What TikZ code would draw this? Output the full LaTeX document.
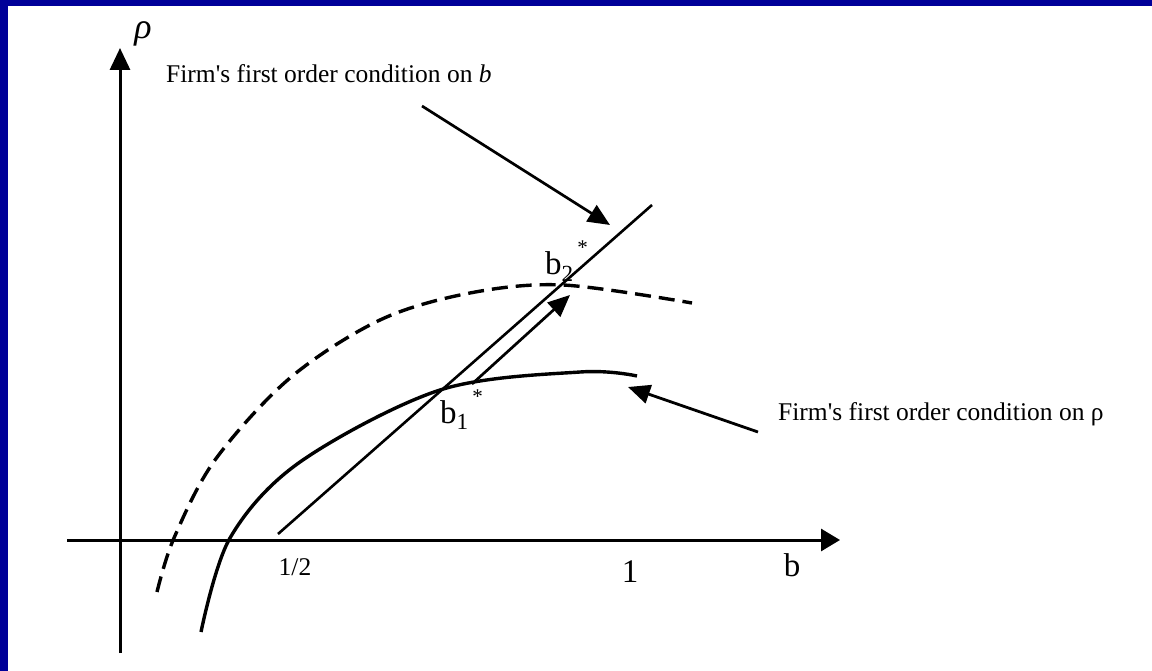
\documentclass[tikz,border=0pt]{standalone}
\usepackage{fontspec}
\setmainfont{Liberation Serif}
\usetikzlibrary{arrows.meta}
\definecolor{frameblue}{RGB}{0,0,153}
\newcommand{\eqlab}[1]{b\textsubscript{#1}\raisebox{20pt}{\fontsize{21}{21}\selectfont\,*}}

\begin{document}
\begin{tikzpicture}[x=1pt,y=-1pt,line join=round,>={Triangle[length=22pt,width=19pt]},
    lab/.style={font=\fontsize{25.5}{28}\selectfont,inner sep=0pt},
    big/.style={font=\fontsize{33}{35}\selectfont,inner sep=0pt}]
  \useasboundingbox (0,0) rectangle (1152,671);
  \fill[frameblue] (0,0) rectangle (1152,6);
  \fill[frameblue] (0,0) rectangle (8,671);

  % axes
  \coordinate (Ybot) at (120,653);
  \coordinate (Ytop) at (120,48);
  \coordinate (Xl) at (67,540);
  \coordinate (Xr) at (840,540);
  \draw[line width=3pt,-{Triangle[length=22pt,width=20pt]}] (Ybot) -- (Ytop);
  \draw[line width=3pt,-{Triangle[length=19pt,width=22pt]}] (Xl) -- (Xr);

  % first order condition on rho
  \draw[line width=3.4pt]
    plot[smooth,tension=.55] coordinates {
      (201,632) (230,538) (300,462) (440,390) (580,372) (637,376)};
  \draw[line width=3.4pt,dash pattern=on 16pt off 8pt]
    plot[smooth,tension=.55] coordinates {
      (157,592) (174,538) (215,460) (290,378) (380,320) (470,293)
      (563,285) (692,303)};

  % first order condition on b
  \coordinate (Lo) at (278,534);
  \coordinate (Hi) at (652,205);
  \draw[line width=2.6pt] (Lo) -- (Hi);

  \coordinate (Shift0) at (472,384);
  \coordinate (Shift1) at (570,295);
  \draw[line width=2.7pt,->] (Shift0) -- (Shift1);

  \node[font=\fontsize{36}{36}\selectfont,inner sep=0pt] (rho) at (143,34) {\textit{ρ}};
  \node[lab,anchor=base west] (focb) at (166,83) {Firm\textquotesingle s first order condition on \textit{b}};
  \node[lab,anchor=base west] (focr) at (778,420) {Firm\textquotesingle s first order condition on ρ};

  \coordinate (Pb0) at (422,106);
  \coordinate (Pb1) at (610,225);
  \draw[line width=2.7pt,->] (Pb0) -- (Pb1);
  \coordinate (Pr0) at (758,432);
  \coordinate (Pr1) at (628,387);
  \draw[line width=2.8pt,->] (Pr0) -- (Pr1);

  \node[big,anchor=base west] (b2) at (545,275) {\eqlab{2}};
  \node[big,anchor=base west] (b1) at (440,423) {\eqlab{1}};

  \node[lab,anchor=base] (half) at (295,575) {1/2};
  \node[big,anchor=base] (one) at (630,582) {1};
  \node[big,anchor=base] (bax) at (792,576) {b};
\end{tikzpicture}
\end{document}
